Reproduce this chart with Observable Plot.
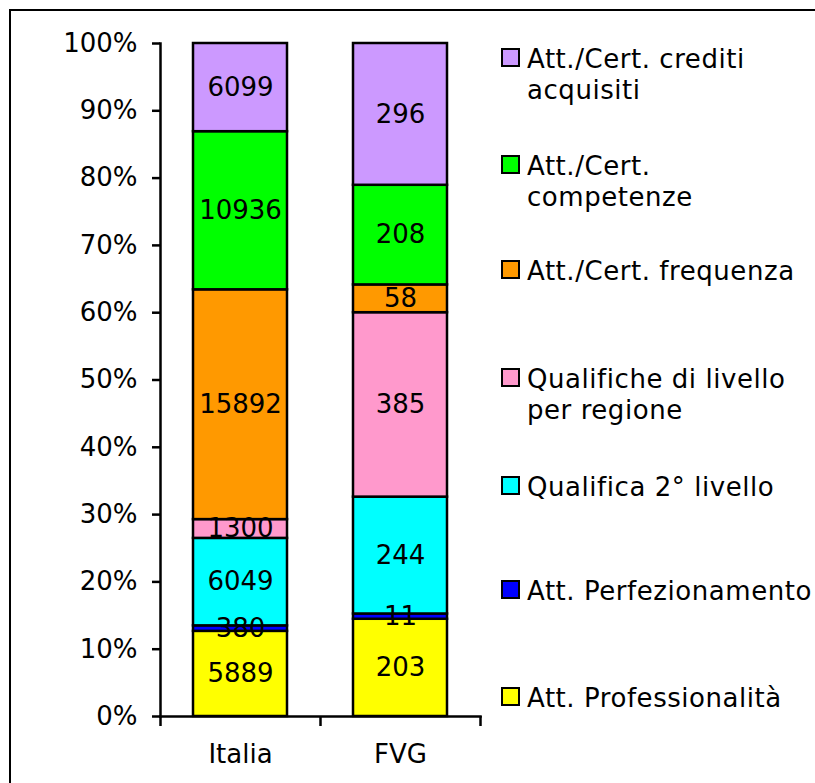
<!DOCTYPE html>
<html><head><meta charset="utf-8">
<script src="https://cdn.jsdelivr.net/npm/d3@7"></script>
<script src="https://cdn.jsdelivr.net/npm/@observablehq/plot@0.6"></script>
<style>
html,body{margin:0;padding:0;background:#fff;overflow:hidden;}
#wrap{position:relative;width:815px;height:783px;overflow:hidden;font-family:"DejaVu Sans",Verdana,sans-serif;}
#chart{position:absolute;left:0;top:0;}
#frame{position:absolute;left:9px;top:9px;width:900px;height:900px;border:2px solid #000;box-sizing:border-box;pointer-events:none;}
.sw{position:absolute;left:501px;width:19px;height:19px;border:2px solid #000;box-sizing:border-box;}
.lt{position:absolute;left:527px;font-size:26px;line-height:31px;letter-spacing:0.55px;color:#000;white-space:nowrap;}
</style></head>
<body><div id="wrap"><div id="chart"></div><div id="legend"></div><div id="frame"></div></div>
<script>
const categories = ["Italia", "FVG"];
const series = ["Att. Professionalità", "Att. Perfezionamento", "Qualifica 2° livello", "Qualifiche di livello per regione", "Att./Cert. frequenza", "Att./Cert. competenze", "Att./Cert. crediti acquisiti"];
const italiaValues = [5889, 380, 6049, 1300, 15892, 10936, 6099];
const fvgValues = [203, 11, 244, 385, 58, 208, 296];
const colors = ["#FFFF00", "#0000FF", "#00FFFF", "#FF99CC", "#FF9900", "#00FF00", "#CC99FF"];
const yTicks = [0, 0.1, 0.2, 0.3, 0.4, 0.5, 0.6, 0.7, 0.8, 0.9, 1];
const legendLines = [
  ["Att./Cert. crediti", "acquisiti"],
  ["Att./Cert.", "competenze"],
  ["Att./Cert. frequenza"],
  ["Qualifiche di livello", "per regione"],
  ["Qualifica 2° livello"],
  ["Att. Perfezionamento"],
  ["Att. Professionalità"]
];
const legendOrder = [6, 5, 4, 3, 2, 1, 0];
const legendCenters = [59, 166, 271, 379, 487, 591, 698];

const data = [];
categories.forEach((c, ci) => {
  const vals = ci === 0 ? italiaValues : fvgValues;
  series.forEach((s, si) => data.push({cat: c, series: s, value: vals[si]}));
});

const plot = Plot.plot({
  width: 815,
  height: 783,
  marginLeft: 160,
  marginRight: 335,
  marginTop: 43,
  marginBottom: 67,
  style: {fontFamily: "DejaVu Sans, Verdana, sans-serif", fontSize: "26px", background: "transparent", color: "#000"},
  x: {domain: categories, paddingInner: 0.4125, paddingOuter: 0.20625, label: null},
  y: {domain: [0, 1], label: null},
  color: {domain: series, range: colors},
  marks: [
    Plot.barY(data, Plot.stackY({x: "cat", y: "value", fill: "series", offset: "normalize", order: null, stroke: "#000", strokeWidth: 2.5})),
    Plot.text(data, Plot.stackY({x: "cat", y: "value", text: d => String(d.value), offset: "normalize", order: null, fill: "#000", fontSize: 26})),
    Plot.frame({anchor: "left", stroke: "#000", strokeWidth: 2.5}),
    Plot.frame({anchor: "bottom", stroke: "#000", strokeWidth: 2.5}),
    Plot.axisY({ticks: yTicks, tickFormat: d3.format(".0%"), tickSize: 8, tickPadding: 15, fontSize: 26, strokeWidth: 2.5, label: null}),
    Plot.axisX({tickSize: 0, tickPadding: 28, fontSize: 26, label: null}),
    Plot.ruleX(categories, {x: d => d, dx: -80, y1: 0, y2: 0, insetBottom: -10, stroke: "#000", strokeWidth: 2.5}),
    Plot.ruleX(categories.slice(-1), {x: d => d, dx: 80, y1: 0, y2: 0, insetBottom: -10, stroke: "#000", strokeWidth: 2.5})
  ]
});
document.getElementById("chart").appendChild(plot);

const lg = document.getElementById("legend");
legendOrder.forEach((si, k) => {
  const c = legendCenters[k];
  const sw = document.createElement("div");
  sw.className = "sw";
  sw.style.top = (c - 11) + "px";
  sw.style.background = colors[si];
  lg.appendChild(sw);
  const t = document.createElement("div");
  t.className = "lt";
  t.style.top = (c - 15.5) + "px";
  t.innerHTML = legendLines[k].join("<br>");
  lg.appendChild(t);
});
</script>
</body></html>
